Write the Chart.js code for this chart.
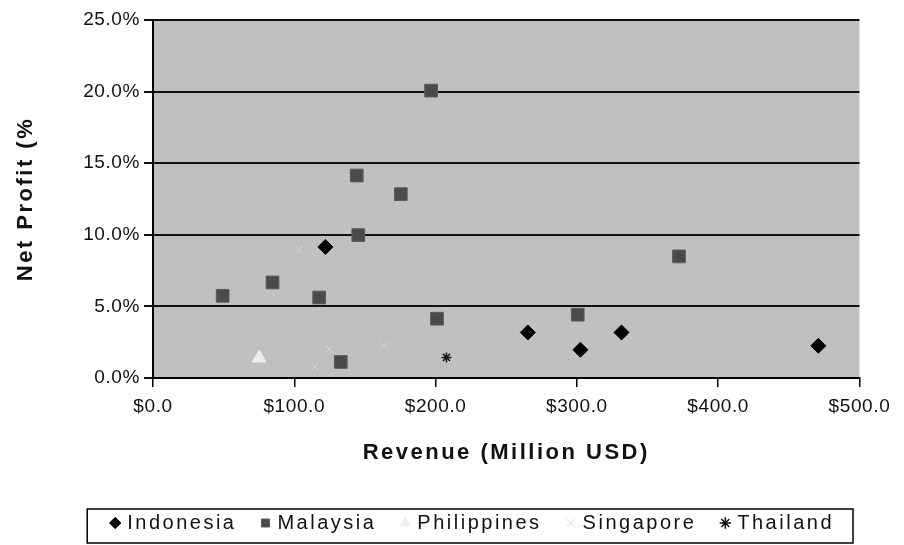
<!DOCTYPE html>
<html>
<head>
<meta charset="utf-8">
<script src="https://cdn.jsdelivr.net/npm/chart.js@4/dist/chart.umd.min.js"></script>
<style>
  html, body { margin: 0; padding: 0; background: #ffffff; }
  canvas { display: block; }
</style>
</head>
<body>
<canvas id="chart" width="904" height="545"></canvas>
<script>
// Revenue (million USD) and net profit (%) per company, grouped by country
const indonesiaRevenue = [122.0, 265.3, 302.5, 331.6, 470.9];
const indonesiaProfit  = [9.15, 3.18, 1.97, 3.18, 2.25];

const malaysiaRevenue = [49.3, 84.6, 117.6, 132.9, 144.2, 145.3, 175.4, 196.8, 201.0, 300.6, 372.3];
const malaysiaProfit  = [5.74, 6.67, 5.62, 1.12, 14.14, 9.98, 12.84, 20.07, 4.14, 4.42, 8.49];

const philippinesRevenue = [75.2];
const philippinesProfit  = [1.40];

const singaporeRevenue = [103.5, 114.7, 124.6, 163.4];
const singaporeProfit  = [8.95, 0.81, 2.02, 2.25];

const thailandRevenue = [207.7];
const thailandProfit  = [1.44];

const countryNames = ['Indonesia', 'Malaysia', 'Philippines', 'Singapore', 'Thailand'];

const xTickValues = [0, 100, 200, 300, 400, 500];
const yTickValues = [0, 5, 10, 15, 20, 25];

const toPoints = (xs, ys) => xs.map((x, i) => ({ x: x, y: ys[i] }));

const FONT = "'Liberation Sans', Arial, sans-serif";
const TEXT_SPACING = '2.5px';   // titles and legend
const TICK_SPACING = '0.6px';   // axis tick labels

// letter spacing: wide for titles/legend, tighter for tick labels
const letterSpacingPlugin = {
  id: 'letterSpacing',
  beforeUpdate(chart) { chart.ctx.letterSpacing = TEXT_SPACING; },
  beforeLayout(chart) { chart.ctx.letterSpacing = TEXT_SPACING; },
  beforeDraw(chart) {
    chart.ctx.letterSpacing = TEXT_SPACING;
    Object.values(chart.scales).forEach(scale => {
      if (scale._tightLabels) return;
      const drawLabels = scale.drawLabels;
      scale.drawLabels = function (area) {
        const ctx = this.ctx;
        const prev = ctx.letterSpacing;
        ctx.letterSpacing = TICK_SPACING;
        drawLabels.call(this, area);
        ctx.letterSpacing = prev;
      };
      scale._tightLabels = true;
    });
  }
};

// grey plot-area fill
const plotBackground = {
  id: 'plotBackground',
  beforeDraw(chart) {
    const { ctx, chartArea: a } = chart;
    ctx.save();
    ctx.fillStyle = '#c0c0c0';
    ctx.fillRect(a.left, a.top, a.right - a.left, a.bottom - a.top);
    ctx.restore();
  }
};

// framed legend box
const legendFrame = {
  id: 'legendFrame',
  afterDraw(chart) {
    const boxes = chart.legend && chart.legend.legendHitBoxes;
    if (!boxes || !boxes.length) return;
    const left = Math.min(...boxes.map(b => b.left)) - 26;
    const right = Math.max(...boxes.map(b => b.left + b.width)) + 19;
    const top = boxes[0].top - 4;
    const bottom = boxes[0].top + boxes[0].height + 10;
    const ctx = chart.ctx;
    ctx.save();
    ctx.strokeStyle = '#000000';
    ctx.lineWidth = 1.5;
    ctx.strokeRect(left, top, right - left, bottom - top);
    ctx.restore();
  }
};

const datasets = [
  {
    label: countryNames[0],
    data: toPoints(indonesiaRevenue, indonesiaProfit),
    pointStyle: 'rectRot', pointRadius: 7.5,
    backgroundColor: '#000000', borderColor: '#000000', borderWidth: 1
  },
  {
    label: countryNames[1],
    data: toPoints(malaysiaRevenue, malaysiaProfit),
    pointStyle: 'rect', pointRadius: 9,
    backgroundColor: '#4a4a4a', borderColor: '#5c5c5c', borderWidth: 1
  },
  {
    label: countryNames[2],
    data: toPoints(philippinesRevenue, philippinesProfit),
    pointStyle: 'triangle', pointRadius: 8,
    backgroundColor: '#eeeeee', borderColor: '#eeeeee', borderWidth: 1
  },
  {
    label: countryNames[3],
    data: toPoints(singaporeRevenue, singaporeProfit),
    pointStyle: 'crossRot', pointRadius: 5.5,
    backgroundColor: '#d6d6d6', borderColor: '#d6d6d6', borderWidth: 1
  },
  {
    label: countryNames[4],
    data: toPoints(thailandRevenue, thailandProfit),
    pointStyle: 'star', pointRadius: 5,
    backgroundColor: '#111111', borderColor: '#111111', borderWidth: 1.5
  }
];

new Chart(document.getElementById('chart'), {
  type: 'scatter',
  data: { datasets: datasets },
  plugins: [letterSpacingPlugin, plotBackground, legendFrame],
  options: {
    responsive: false,
    devicePixelRatio: 1,
    animation: false,
    events: [],
    layout: { padding: { top: 20, right: 43, left: 0, bottom: 2 } },
    scales: {
      x: {
        type: 'linear',
        min: 0, max: 500,
        afterBuildTicks(scale) { scale.ticks = xTickValues.map(v => ({ value: v })); },
        afterFit(scale) { scale.height = 108; },
        ticks: {
          color: '#111111',
          font: { family: FONT, size: 19 },
          padding: 8,
          callback: v => '$' + Number(v).toFixed(1)
        },
        grid: { drawOnChartArea: false, drawTicks: true, tickLength: 9, color: '#000000', lineWidth: 1.5 },
        border: { display: true, color: '#000000', width: 2 },
        title: {
          display: true,
          text: 'Revenue (Million USD)',
          color: '#111111',
          font: { family: FONT, size: 22, weight: 'bold' },
          padding: { top: 0, bottom: 20 }
        }
      },
      y: {
        type: 'linear',
        min: 0, max: 25,
        afterBuildTicks(scale) { scale.ticks = yTickValues.map(v => ({ value: v })); },
        afterFit(scale) { scale.width = 153; },
        ticks: {
          color: '#111111',
          font: { family: FONT, size: 19 },
          padding: 4,
          callback: v => Number(v).toFixed(1) + '%'
        },
        grid: { drawOnChartArea: true, drawTicks: true, tickLength: 9, color: '#111111', lineWidth: 2 },
        border: { display: true, color: '#000000', width: 2 },
        title: {
          display: true,
          text: 'Net Profit (%',
          color: '#111111',
          font: { family: FONT, size: 22, weight: 'bold' },
          padding: { top: 13, bottom: 0 }
        }
      }
    },
    plugins: {
      tooltip: { enabled: false },
      legend: {
        display: true,
        position: 'bottom',
        align: 'end',
        labels: {
          usePointStyle: true,
          boxWidth: 4,
          boxHeight: 8,
          padding: 27,
          color: '#111111',
          font: { family: FONT, size: 20 }
        }
      }
    }
  }
});
</script>
</body>
</html>
